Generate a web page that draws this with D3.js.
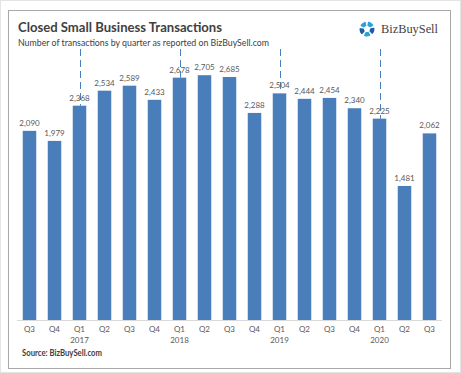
<!DOCTYPE html>
<html>
<head>
<meta charset="utf-8">
<script src="https://cdn.jsdelivr.net/npm/d3@7"></script>
<style>
  body { margin: 0; background: #fff; }
  svg { display: block; font-family: Lato, "Liberation Sans", sans-serif; }
</style>
</head>
<body>
<svg class="chart"></svg>
<script>
var quarters = ["Q3", "Q4", "Q1", "Q2", "Q3", "Q4", "Q1", "Q2", "Q3", "Q4", "Q1", "Q2", "Q3", "Q4", "Q1", "Q2", "Q3"];
var years = ["", "", "2017", "", "", "", "2018", "", "", "", "2019", "", "", "", "2020", "", ""];
var transactions = [2090, 1979, 2368, 2534, 2589, 2433, 2678, 2705, 2685, 2288, 2504, 2444, 2454, 2340, 2225, 1481, 2062];

var width = 461;
var height = 373;

var svg = d3.select(".chart").attr("width", width).attr("height", height);

// outer frame of the screenshot and the chart border
svg.append("rect").attr("x", 0.5).attr("y", 0.5).attr("width", width - 1).attr("height", height - 1)
    .attr("fill", "none").attr("stroke", "#e4e4e4");
svg.append("rect").attr("x", 8.5).attr("y", 10.5).attr("width", 442).attr("height", 358)
    .attr("fill", "#fff").attr("stroke", "#a8a8a8");

var idx = d3.range(transactions.length);

var x = d3.scaleBand().domain(idx).range([17, 442]).paddingInner(0.46).paddingOuter(0.23);
var y = d3.scaleLinear().domain([0, 3000]).range([320, 48.5]);

// titles
svg.append("text").attr("x", 18).attr("y", 32)
    .attr("textLength", 204).attr("lengthAdjust", "spacingAndGlyphs")
    .style("font-size", "13.5px").style("font-weight", "bold").style("fill", "#404040")
    .text("Closed Small Business Transactions");
svg.append("text").attr("x", 18).attr("y", 46)
    .attr("textLength", 251).attr("lengthAdjust", "spacingAndGlyphs")
    .style("font-size", "9.5px").style("fill", "#404040")
    .text("Number of transactions by quarter as reported on BizBuySell.com");

// logo
var logo = svg.append("g").attr("transform", "translate(367,29)");
var arc = d3.arc().innerRadius(3).outerRadius(7.5).cornerRadius(1);
d3.range(5).forEach(function(i) {
    var a0 = i * 2 * Math.PI / 5 + 0.12;
    logo.append("path")
        .attr("d", arc({ startAngle: a0, endAngle: a0 + 2 * Math.PI / 5 - 0.3 }))
        .attr("fill", i % 2 ? "#1d5fa6" : "#2aa3dc");
});
svg.append("text").attr("x", 381).attr("y", 33)
    .attr("textLength", 57).attr("lengthAdjust", "spacingAndGlyphs")
    .style("font-family", "'Liberation Serif', 'DejaVu Serif', serif")
    .style("font-size", "13.5px").style("fill", "#3f3f3f")
    .text("BizBuySell");

// baseline
svg.append("line").attr("x1", 17).attr("x2", 442).attr("y1", y(0) + 0.5).attr("y2", y(0) + 0.5)
    .attr("stroke", "#d9d9d9");

// dashed year separators at each Q1
svg.selectAll("line.year").data(idx.filter(function(i) { return years[i]; })).enter()
    .append("line").attr("class", "year")
    .attr("x1", function(i) { return Math.round(x(i) + x.bandwidth() / 2) + 0.5; })
    .attr("x2", function(i) { return Math.round(x(i) + x.bandwidth() / 2) + 0.5; })
    .attr("y1", 49)
    .attr("y2", function(i) { return y(transactions[i]); })
    .attr("stroke", "#4a7ebb").attr("stroke-dasharray", "7,4");

// bars
svg.selectAll("rect.bar").data(idx).enter()
    .append("rect").attr("class", "bar")
    .attr("x", function(i) { return x(i); })
    .attr("width", x.bandwidth())
    .attr("y", function(i) { return y(transactions[i]); })
    .attr("height", function(i) { return y(0) - y(transactions[i]); })
    .attr("fill", "#4a7ebb");

// value labels
svg.selectAll("text.value").data(idx).enter()
    .append("text").attr("class", "value")
    .attr("x", function(i) { return x(i) + x.bandwidth() / 2; })
    .attr("y", function(i) { return y(transactions[i]) - 5; })
    .attr("text-anchor", "middle")
    .style("font-size", "8px").style("fill", "#595959")
    .text(function(i) { return d3.format(",")(transactions[i]); });

// category labels
svg.selectAll("text.quarter").data(idx).enter()
    .append("text").attr("class", "quarter")
    .attr("x", function(i) { return x(i) + x.bandwidth() / 2; })
    .attr("y", 332)
    .attr("text-anchor", "middle")
    .style("font-size", "8px").style("fill", "#595959")
    .text(function(i) { return quarters[i]; });
svg.selectAll("text.yr").data(idx).enter()
    .append("text").attr("class", "yr")
    .attr("x", function(i) { return x(i) + x.bandwidth() / 2; })
    .attr("y", 343)
    .attr("text-anchor", "middle")
    .style("font-size", "8px").style("fill", "#595959")
    .text(function(i) { return years[i]; });

// source
svg.append("text").attr("x", 22).attr("y", 356)
    .attr("textLength", 80).attr("lengthAdjust", "spacingAndGlyphs")
    .style("font-size", "8.5px").style("font-weight", "bold").style("fill", "#404040")
    .text("Source: BizBuySell.com");
</script>
</body>
</html>
